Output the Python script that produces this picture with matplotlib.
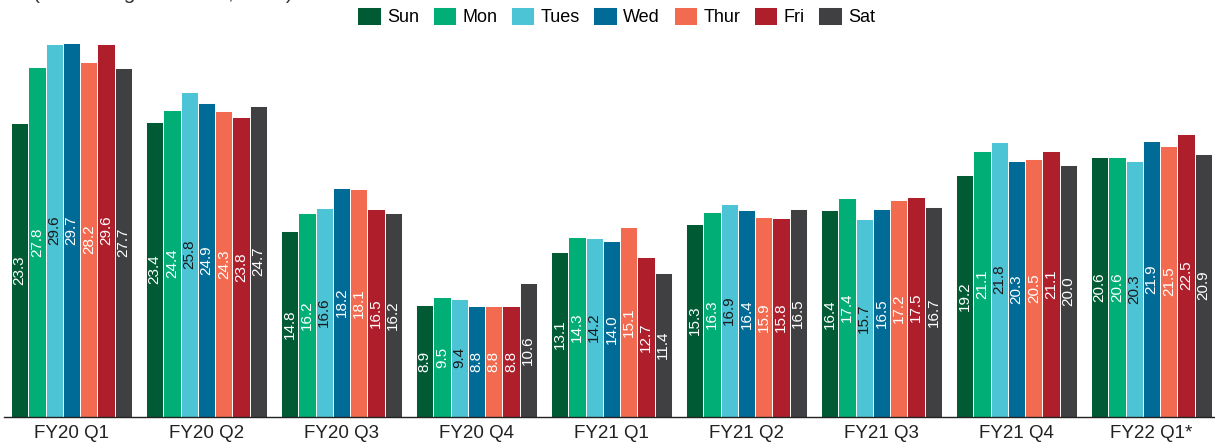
# -*- coding: utf-8 -*-
"""
Grouped bar chart: values by weekday for each fiscal quarter.
"""

# --IMPORTS---
import numpy as np
import matplotlib
matplotlib.use('Agg')
import matplotlib.pyplot as plt

# --DATA---
quarters = ['FY20 Q1', 'FY20 Q2', 'FY20 Q3', 'FY20 Q4', 'FY21 Q1',
            'FY21 Q2', 'FY21 Q3', 'FY21 Q4', 'FY22 Q1*']
days = ['Sun', 'Mon', 'Tues', 'Wed', 'Thur', 'Fri', 'Sat']

sun = [23.3, 23.4, 14.8, 8.9, 13.1, 15.3, 16.4, 19.2, 20.6]
mon = [27.8, 24.4, 16.2, 9.5, 14.3, 16.3, 17.4, 21.1, 20.6]
tues = [29.6, 25.8, 16.6, 9.4, 14.2, 16.9, 15.7, 21.8, 20.3]
wed = [29.7, 24.9, 18.2, 8.8, 14.0, 16.4, 16.5, 20.3, 21.9]
thur = [28.2, 24.3, 18.1, 8.8, 15.1, 15.9, 17.2, 20.5, 21.5]
fri = [29.6, 23.8, 16.5, 8.8, 12.7, 15.8, 17.5, 21.1, 22.5]
sat = [27.7, 24.7, 16.2, 10.6, 11.4, 16.5, 16.7, 20.0, 20.9]

# --STYLE---
COLORS = ['#005a33', '#00ae76', '#4dc4d6', '#006b96',
          '#f26b50', '#ae1f2b', '#404042']
LABEL_COLORS = ['white', 'white', '#1a1a1a', 'white', 'white', 'white', 'white']
BAR_W = 0.128


def main():
    plt.rcParams['font.family'] = ['Liberation Sans', 'DejaVu Sans']

    series = [sun, mon, tues, wed, thur, fri, sat]
    x = np.arange(len(quarters))

    fig = plt.figure(figsize=(12.15, 4.47), dpi=100)
    ax = fig.add_axes([4 / 1215, 30 / 447, 1 - 4 / 1215, 1 - 30 / 447])

    for k, (day, vals) in enumerate(zip(days, series)):
        offs = (k - 3) * BAR_W
        bars = ax.bar(x + offs, vals, BAR_W, color=COLORS[k], label=day,
                      edgecolor='white', linewidth=0.7)
        for b, v in zip(bars, vals):
            ax.text(b.get_x() + b.get_width() / 2, v / 2, '%.1f' % v,
                    rotation=90, ha='center', va='center', fontsize=11,
                    color=LABEL_COLORS[k])

    ax.set_xlim(-0.5, 8.47)
    ax.set_ylim(0, 33.1)
    ax.set_xticks(x)
    ax.set_xticklabels(quarters, fontsize=13.5, color='#222222')
    ax.tick_params(axis='x', length=0, pad=6)
    ax.set_yticks([])
    for side in ['top', 'left', 'right']:
        ax.spines[side].set_visible(False)
    ax.spines['bottom'].set_color('#222222')
    ax.spines['bottom'].set_linewidth(1.0)

    # Legend
    fig.legend(loc='upper left', bbox_to_anchor=(350 / 1215, 1.0), ncol=7,
               frameon=False, fontsize=13, handlelength=1.3, handleheight=1.1,
               handletextpad=0.35, columnspacing=0.75, borderaxespad=0)

    # Title, mostly cut off above the figure
    fig.text(33 / 1215, 1.0 + 1 / 447, '(Percentage of Sales, 2021)',
             fontsize=15, color='#333333', va='baseline', ha='left')

    fig.savefig('out.png', dpi=100)


# ---MAIN---
if __name__ == '__main__':
    main()
